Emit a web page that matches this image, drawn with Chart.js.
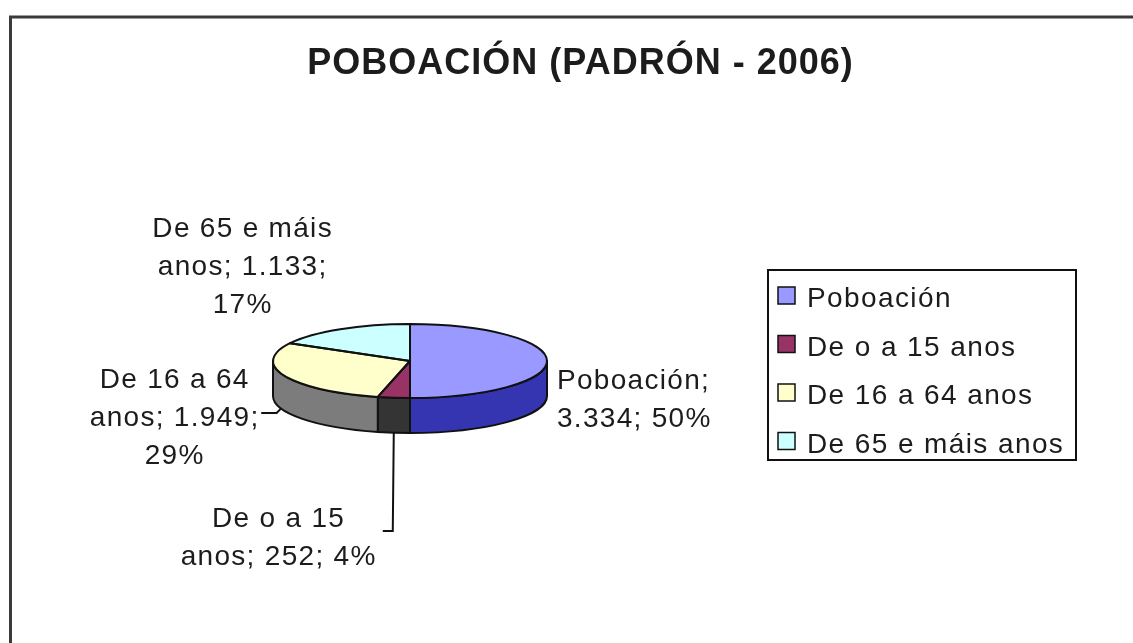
<!DOCTYPE html>
<html>
<head>
<meta charset="utf-8">
<script src="https://cdn.jsdelivr.net/npm/chart.js@4.4.1/dist/chart.umd.min.js"></script>
<style>
  html, body { margin: 0; padding: 0; background: #fff; overflow: hidden; }
  canvas { display: block; }
</style>
</head>
<body>
<canvas id="poboacionChart" width="1133" height="643"></canvas>
<script>
var chartTitle = "POBOACIÓN (PADRÓN - 2006)";
var categories = ["Poboación", "De o a 15 anos", "De 16 a 64 anos", "De 65 e máis anos"];
var values = [3334, 252, 1949, 1133];
var topColors = ["#9999FF", "#993366", "#FFFFCC", "#CCFFFF"];
var sideColors = ["#3535B2", "#343434", "#7C7C7C", "#66A0A0"];

// where each data label sits (first baseline) and how wide it may wrap
var labelX = [557, 278, 174, 242];
var labelY = [389, 527, 388, 237];
var labelAlign = ["left", "center", "center", "center"];
var labelWrap = [175, 200, 190, 200];

var FONT = "'Liberation Sans', Arial, sans-serif";
var TEXT = "#1c1c1c";
var tilt = 0.27;   // vertical squash of the pie top
var depth = 35;    // height of the pie side

function fmt(n) {
    return String(n).replace(/\B(?=(\d{3})+(?!\d))/g, ".");
}

function wrap(ctx, text, maxW) {
    var words = text.split(" "), lines = [], cur = "";
    words.forEach(function (w) {
        var test = cur ? cur + " " + w : w;
        if (cur && ctx.measureText(test).width > maxW) { lines.push(cur); cur = w; }
        else cur = test;
    });
    if (cur) lines.push(cur);
    return lines;
}

// centred text with letter spacing: drop the trailing gap before centring
function spacedText(ctx, txt, x, y, align, sp) {
    ctx.letterSpacing = sp + "px";
    var w = ctx.measureText(txt).width - sp;
    var left = align === "center" ? x - w / 2 : x;
    ctx.textAlign = "left";
    ctx.fillText(txt, left, y);
    return left + w;
}

var pie3d = {
    id: 'pie3d',
    beforeDatasetsDraw: function (chart) {
        var ctx = chart.ctx, arcs = chart.getDatasetMeta(0).data;
        var cx = arcs[0].x, cy = arcs[0].y, rx = arcs[0].outerRadius, ry = rx * tilt;
        ctx.save();
        ctx.lineWidth = 2;
        ctx.strokeStyle = "#111";
        ctx.lineJoin = "round";
        // front side of each slice (canvas angles 0..PI are the near half)
        arcs.forEach(function (arc, i) {
            var a1 = Math.max(arc.startAngle, 0), a2 = Math.min(arc.endAngle, Math.PI);
            if (a2 <= a1) return;
            ctx.beginPath();
            ctx.ellipse(cx, cy, rx, ry, 0, a1, a2);
            ctx.lineTo(cx + rx * Math.cos(a2), cy + ry * Math.sin(a2) + depth);
            ctx.ellipse(cx, cy + depth, rx, ry, 0, a2, a1, true);
            ctx.closePath();
            ctx.fillStyle = sideColors[i];
            ctx.fill();
            ctx.stroke();
        });
        ctx.restore();
        // squash the pie the library draws
        ctx.save();
        ctx.translate(cx, cy);
        ctx.scale(1, tilt);
        ctx.translate(-cx, -cy);
    },
    afterDatasetsDraw: function (chart) {
        var ctx = chart.ctx, arcs = chart.getDatasetMeta(0).data;
        ctx.restore();
        var cx = arcs[0].x, cy = arcs[0].y, rx = arcs[0].outerRadius, ry = rx * tilt;
        ctx.save();
        ctx.lineWidth = 2;
        ctx.strokeStyle = "#111";
        ctx.lineJoin = "round";
        arcs.forEach(function (arc) {
            ctx.beginPath();
            ctx.moveTo(cx, cy);
            ctx.lineTo(cx + rx * Math.cos(arc.startAngle), cy + ry * Math.sin(arc.startAngle));
            ctx.ellipse(cx, cy, rx, ry, 0, arc.startAngle, arc.endAngle);
            ctx.closePath();
            ctx.stroke();
        });
        ctx.restore();
    },
    afterDraw: function (chart) {
        var ctx = chart.ctx, arcs = chart.getDatasetMeta(0).data;
        var cx = arcs[0].x, cy = arcs[0].y, rx = arcs[0].outerRadius, ry = rx * tilt;
        var total = values.reduce(function (a, b) { return a + b; }, 0);
        ctx.save();

        // chart frame
        ctx.strokeStyle = "#3a3a3a";
        ctx.lineWidth = 3;
        ctx.strokeRect(10.5, 17, 1200, 700);

        // title
        ctx.fillStyle = TEXT;
        ctx.font = "bold 36px " + FONT;
        ctx.textBaseline = "alphabetic";
        spacedText(ctx, chartTitle, 580, 74, "center", 1);

        // data labels
        ctx.font = "28px " + FONT;
        var ends = [];
        categories.forEach(function (c, i) {
            var pct = Math.round(values[i] / total * 100);
            ctx.letterSpacing = "1.3px";
            var lines = wrap(ctx, c + "; " + fmt(values[i]) + "; " + pct + "%", labelWrap[i]);
            var right = 0;
            lines.forEach(function (ln, k) {
                var r = spacedText(ctx, ln, labelX[i], labelY[i] + k * 38, labelAlign[i], 1.3);
                if (k === 1 || lines.length === 1) right = r;
            });
            ends.push(right);
        });
        ctx.letterSpacing = "0px";

        // leader lines
        ctx.strokeStyle = "#111";
        ctx.lineWidth = 2;
        var a = arcs[1], mid = (a.startAngle + a.endAngle) / 2;
        var px = cx + rx * Math.cos(mid), py = cy + ry * Math.sin(mid) + depth;
        ctx.beginPath();
        ctx.moveTo(px, py);
        ctx.lineTo(px - 1, labelY[1] + 4);
        ctx.lineTo(px - 11, labelY[1] + 4);
        ctx.stroke();

        a = arcs[2]; mid = (a.startAngle + a.endAngle) / 2;
        px = cx + rx * Math.cos(mid); py = cy + ry * Math.sin(mid) + depth;
        ctx.beginPath();
        ctx.moveTo(ends[2] + 3, labelY[2] + 25);
        ctx.lineTo(px - 8, labelY[2] + 25);
        ctx.lineTo(px - 3, py - 3);
        ctx.stroke();

        // legend
        ctx.lineWidth = 2;
        ctx.strokeStyle = "#111";
        ctx.strokeRect(768, 270, 308, 190);
        ctx.font = "28px " + FONT;
        categories.forEach(function (c, i) {
            var y = 307 + i * 48.5;
            ctx.fillStyle = topColors[i];
            ctx.fillRect(778, y - 20, 17, 17);
            ctx.lineWidth = 1.5;
            ctx.strokeRect(778, y - 20, 17, 17);
            ctx.fillStyle = TEXT;
            spacedText(ctx, c, 807, y, "left", 1.4);
        });
        ctx.letterSpacing = "0px";
        ctx.restore();
    }
};

var canvas = document.getElementById("poboacionChart");
var ctx = canvas.getContext("2d");
new Chart(ctx, {
    type: 'pie',
    data: {
        labels: categories,
        datasets: [{
            data: values,
            backgroundColor: topColors,
            borderWidth: 0,
            radius: 137,
            clip: false
        }]
    },
    options: {
        responsive: false,
        maintainAspectRatio: false,
        animation: false,
        events: [],
        layout: { padding: { left: 260, right: 573, top: 211, bottom: 132 } },
        plugins: { legend: { display: false }, title: { display: false }, tooltip: { enabled: false } }
    },
    plugins: [pie3d]
});
</script>
</body>
</html>
